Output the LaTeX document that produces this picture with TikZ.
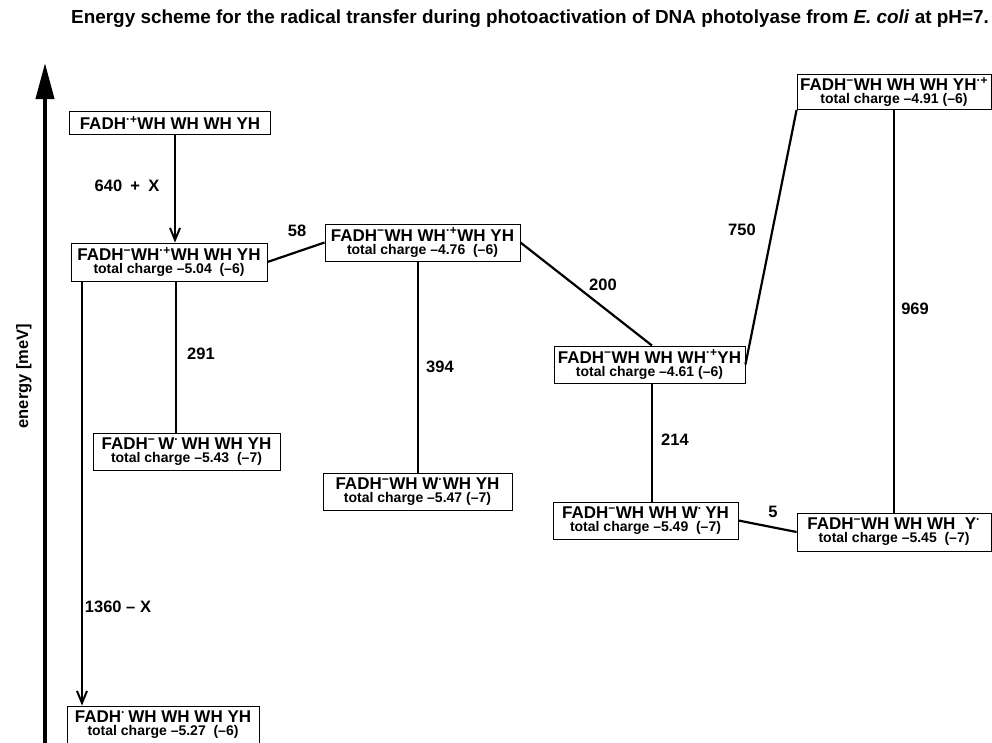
\documentclass[tikz,border=0pt]{standalone}
\usepackage{fontspec}
\setmainfont{Liberation Sans}
\usetikzlibrary{arrows.meta}
\newcommand{\rd}{\textsuperscript{·}}
\newcommand{\rp}{\textsuperscript{·+}}
\newcommand{\an}{\textsuperscript{−}}
\newcommand{\tc}[1]{\\[-4pt]{\fontsize{14}{14}\selectfont total charge #1}}
\begin{document}
\begin{tikzpicture}[x=1pt,y=-1pt,
  state/.style={draw, line width=0.9pt, fill=white, align=center, inner sep=1pt,
    font=\bfseries\fontsize{17}{17}\selectfont},
  lbl/.style={font=\bfseries\fontsize{16.5}{17}\selectfont},
  conn/.style={line width=2.2pt},
  arr/.style={line width=2pt, -{Straight Barb[length=12pt,width=10pt]}},
  axis/.style={line width=4pt, -{Triangle[length=36pt,width=18pt]}}]
\useasboundingbox (0,0) rectangle (992,742);
% title
\node[anchor=west, font=\bfseries\fontsize{18.9}{19}\selectfont, inner sep=0pt] (title) at (71,19)
  {Energy scheme for the radical transfer during photoactivation of DNA photolyase from \textit{E. coli} at pH=7.};
% axis
\coordinate (axb) at (45,750);
\coordinate (axt) at (45,63);
\draw[axis] (axb) -- (axt);
\node[lbl, rotate=90] (elab) at (24,376) {energy [meV]};
% states
\node[state, minimum width=201pt, minimum height=23pt] (b1) at (170,123) {FADH\rp WH WH WH YH};
\node[state, minimum width=196pt, minimum height=38pt] (b2) at (169,262) {FADH\an WH\rp WH WH YH\tc{–5.04\ \ (–6)}};
\node[state, minimum width=195pt, minimum height=37pt] (b3) at (422.5,242.5) {FADH\an WH WH\rp WH YH\tc{–4.76\ \ (–6)}};
\node[state, minimum width=191pt, minimum height=37pt] (b4) at (649.5,364.5) {FADH\an WH WH WH\rp YH\tc{–4.61\ (–6)}};
\node[state, minimum width=194pt, minimum height=35pt] (b5) at (894,92) {FADH\an WH WH WH YH\rp\tc{–4.91\ (–6)}};
\node[state, minimum width=187pt, minimum height=37pt] (b6) at (186.5,451.5) {FADH\an\,W\rd\,WH WH YH\tc{–5.43\ \ (–7)}};
\node[state, minimum width=189pt, minimum height=37pt] (b7) at (417.5,491.5) {FADH\an WH W\rd WH YH\tc{–5.47\ (–7)}};
\node[state, minimum width=185pt, minimum height=37pt] (b8) at (645.5,520.5) {FADH\an WH WH W\rd\,YH\tc{–5.49\ \ (–7)}};
\node[state, minimum width=194pt, minimum height=38pt] (b9) at (894,532) {FADH\an WH WH WH\ \ Y\rd\tc{–5.45\ \ (–7)}};
\node[state, minimum width=192pt, minimum height=38pt] (b10) at (163,725) {FADH\rd\,WH WH WH YH\tc{–5.27\ \ (–6)}};
% connectors
\draw[arr] (b1.south -| 175,0) -- (b2.north -| 175,0);
\draw[conn] (b2.east) -- (b3.west);
\draw[conn] (b2.south -| 176,0) -- (b6.north -| 176,0);
\draw[arr] (b2.south -| 82,0) -- (b10.north -| 82,0);
\draw[conn] (b3.south -| 418,0) -- (b7.north -| 418,0);
\draw[conn] (b3.east) -- (b4.north -| 652,0);
\draw[conn] (b4.east) -- (b5.south west);
\draw[conn] (b4.south -| 652,0) -- (b8.north -| 652,0);
\draw[conn] (b5.south) -- (b9.north);
\draw[conn] (b8.east) -- (b9.west);
% labels
\node[lbl] (l1) at (127,186) {640\hspace{0.5em}+\hspace{0.5em}X};
\node[lbl] (l2) at (297,231) {58};
\node[lbl] (l3) at (201,354) {291};
\node[lbl] (l4) at (440,367) {394};
\node[lbl] (l5) at (603,285) {200};
\node[lbl] (l6) at (742,230) {750};
\node[lbl] (l7) at (915,309) {969};
\node[lbl] (l8) at (675,440) {214};
\node[lbl] (l9) at (773,512) {5};
\node[lbl] (l10) at (118,607) {1360 – X};
\end{tikzpicture}
\end{document}
